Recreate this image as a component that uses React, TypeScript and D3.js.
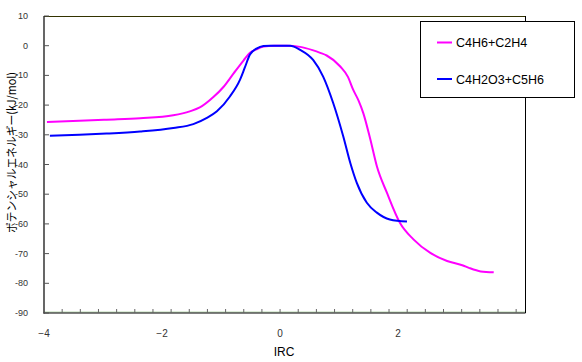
import * as d3 from 'd3';

// C4H6+C2H4 (magenta)
const ircA = [-3.95, -3.4, -2.94, -2.37, -1.81, -1.53, -1.36, -1.13, -0.96, -0.79, -0.62, -0.51, -0.4, -0.28, -0.1, 0.11, 0.34, 0.55, 0.68, 0.79, 1.02, 1.15, 1.24, 1.33, 1.41, 1.53, 1.64, 1.81, 2.03, 2.26, 2.54, 2.83, 3.1, 3.2, 3.4, 3.62];
const energyA = [-25.7, -25.3, -24.9, -24.4, -23.4, -22.1, -20.8, -17.3, -13.9, -9.4, -5.0, -2.4, -1.2, -0.3, 0, 0, -0.4, -1.5, -2.4, -3.3, -7.0, -10.5, -14.9, -18.5, -22.7, -31.6, -40.6, -49.5, -59.6, -65.2, -69.7, -72.5, -74.0, -74.8, -76.0, -76.3];

// C4H2O3+C5H6 (blue)
const ircB = [-3.9, -3.4, -2.94, -2.37, -1.81, -1.47, -1.24, -1.07, -0.85, -0.68, -0.6, -0.51, -0.4, -0.28, -0.17, 0.17, 0.34, 0.56, 0.73, 0.9, 1.07, 1.19, 1.3, 1.47, 1.64, 1.86, 2.15];
const energyB = [-30.3, -30.0, -29.6, -28.9, -27.7, -26.4, -24.3, -22.1, -17.1, -11.5, -7.5, -3.0, -1.0, -0.1, 0, 0, -1.4, -4.8, -10.4, -19.3, -30.5, -39.5, -46.2, -52.9, -56.2, -58.5, -59.2];

const seriesNames = ['C4H6+C2H4', 'C4H2O3+C5H6'];
const seriesColors = ['#ff00ff', '#0000ff'];
const xLabels = [-4, -2, 0, 2];
const yTicks = [10, 0, -10, -20, -30, -40, -50, -60, -70, -80, -90];

const font = '"Liberation Sans", Arial, sans-serif';

export default function App() {
  const x = d3.scaleLinear().domain([-4, 4.15]).range([44, 525]);
  const y = d3.scaleLinear().domain([-90, 10]).range([313, 16]);

  const line = d3.line<[number, number]>()
    .x(d => x(d[0]))
    .y(d => y(d[1]))
    .curve(d3.curveMonotoneX);

  const dataA = ircA.map((v, i) => [v, energyA[i]] as [number, number]);
  const dataB = ircB.map((v, i) => [v, energyB[i]] as [number, number]);

  // small tick marks along the bottom axis
  const xMinor = d3.range(27).map(i => -4 + (i * 8) / 26);

  return (
    <svg width={582} height={362} style={{ position: 'absolute', left: 0, top: 0, background: '#fff' }} fontFamily={font}>
      {/* light grid at bottom */}
      <line x1={44} x2={525} y1={y(-90) - 1} y2={y(-90) - 1} stroke="#b8d8b0" />
      {/* frame */}
      <line x1={44} x2={525} y1={16.5} y2={16.5} stroke="#333300" />
      <line x1={525.5} x2={525.5} y1={16} y2={313} stroke="#000" />
      <line x1={44} x2={44} y1={16} y2={313.5} stroke="#000" strokeWidth={1.2} />
      <line x1={43.5} x2={525.5} y1={313} y2={313} stroke="#000" strokeWidth={1.2} />

      {yTicks.map(t => (
        <g key={t}>
          <line x1={44} x2={49} y1={y(t)} y2={y(t)} stroke="#555" />
          <text x={28} y={y(t) + 3} fontSize={9} textAnchor="end" fill="#333">{String(t)}</text>
        </g>
      ))}
      {xMinor.map((t, i) => (
        <line key={i} x1={x(t)} x2={x(t)} y1={313} y2={309} stroke="#666" />
      ))}
      {xLabels.map(t => (
        <text key={t} x={x(t)} y={337} fontSize={10} textAnchor="middle" fill="#333">{t < 0 ? '−' + Math.abs(t) : t}</text>
      ))}

      <text x={284} y={356} fontSize={12} textAnchor="middle" fill="#000">IRC</text>
      <text transform="translate(16,152.5) rotate(-90)" fontSize={11.5} textAnchor="middle" fill="#000"
        fontFamily='"Noto Sans CJK JP", sans-serif' textLength={161} lengthAdjust="spacingAndGlyphs">ポテンシャルエネルギー(kJ/mol)</text>

      <path d={line(dataA) ?? ''} fill="none" stroke={seriesColors[0]} strokeWidth={2} />
      <path d={line(dataB) ?? ''} fill="none" stroke={seriesColors[1]} strokeWidth={2} />

      {/* legend */}
      <rect x={420.5} y={21.5} width={154} height={76} fill="#fff" stroke="#000" />
      {seriesNames.map((n, i) => (
        <g key={n} transform={`translate(0,${42.5 + i * 36.5})`}>
          <line x1={437} x2={452} y1={0} y2={0} stroke={seriesColors[i]} strokeWidth={2} />
          <text x={456} y={4.5} fontSize={12.5} fill="#000">{n}</text>
        </g>
      ))}
    </svg>
  );
}
